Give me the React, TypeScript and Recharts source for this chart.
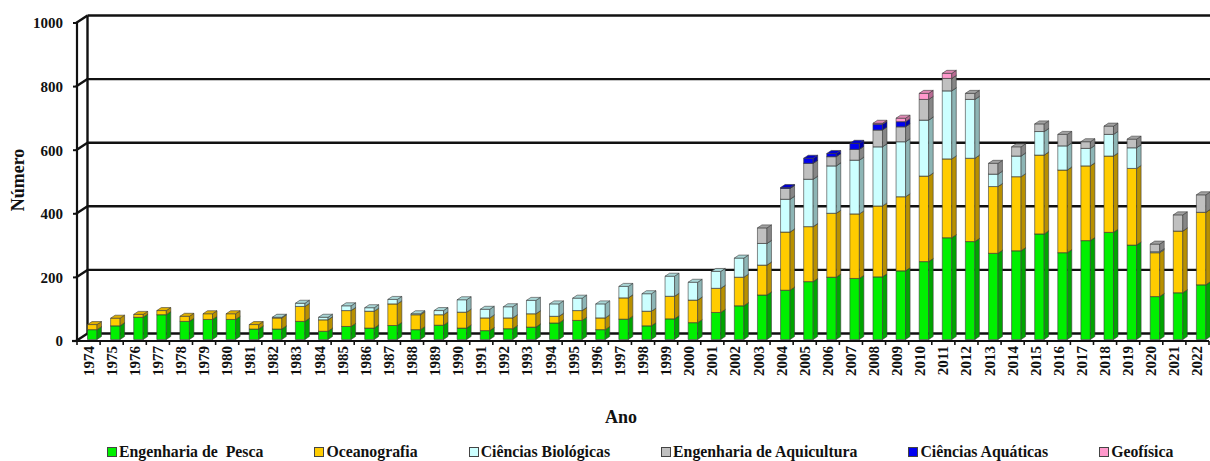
import React from 'react';
import { BarChart, Bar, XAxis, YAxis, CartesianGrid, Legend, Label } from 'recharts';

// ---------- data ----------
const years = [
  1974, 1975, 1976, 1977, 1978, 1979, 1980, 1981, 1982, 1983, 1984, 1985, 1986, 1987, 1988, 1989,
  1990, 1991, 1992, 1993, 1994, 1995, 1996, 1997, 1998, 1999, 2000, 2001, 2002, 2003, 2004, 2005,
  2006, 2007, 2008, 2009, 2010, 2011, 2012, 2013, 2014, 2015, 2016, 2017, 2018, 2019, 2020, 2021, 2022,
];
const engenhariaPesca = [
  31, 43, 70, 78, 57, 63, 63, 33, 33, 57, 26, 41, 36, 44, 31, 45,
  36, 28, 34, 39, 52, 60, 31, 64, 43, 65, 53, 85, 106, 140, 155, 182,
  196, 192, 197, 216, 245, 320, 308, 271, 279, 332, 273, 311, 337, 297, 135, 147, 172,
];
const oceanografia = [
  16, 24, 9, 13, 16, 18, 18, 14, 35, 47, 36, 50, 53, 68, 47, 33,
  50, 40, 34, 42, 21, 31, 37, 67, 46, 71, 71, 76, 90, 94, 183, 173,
  201, 203, 223, 233, 269, 248, 262, 210, 233, 248, 260, 235, 240, 241, 138, 194, 228,
];
const cienciasBiologicas = [
  0, 0, 0, 0, 0, 0, 0, 0, 2, 10, 8, 15, 11, 14, 3, 13,
  39, 27, 35, 42, 39, 39, 44, 36, 55, 63, 56, 53, 60, 68, 103, 149,
  149, 169, 186, 173, 176, 214, 185, 39, 65, 74, 76, 55, 68, 65, 3, 0, 0,
];
const engenhariaAquicultura = [
  0, 0, 0, 0, 0, 0, 0, 0, 0, 0, 0, 0, 0, 0, 0, 0,
  0, 0, 0, 0, 0, 0, 0, 0, 0, 0, 0, 0, 0, 49, 34, 50,
  29, 34, 53, 47, 65, 39, 19, 34, 29, 24, 36, 21, 26, 27, 24, 51, 55,
];
const cienciasAquaticas = [
  0, 0, 0, 0, 0, 0, 0, 0, 0, 0, 0, 0, 0, 0, 0, 0,
  0, 0, 0, 0, 0, 0, 0, 0, 0, 0, 0, 0, 0, 0, 3, 16,
  10, 19, 18, 16, 0, 0, 0, 0, 0, 0, 0, 0, 0, 0, 0, 0, 0,
];
const geofisica = [
  0, 0, 0, 0, 0, 0, 0, 0, 0, 0, 0, 0, 0, 0, 0, 0,
  0, 0, 0, 0, 0, 0, 0, 0, 0, 0, 0, 0, 0, 0, 0, 0,
  0, 0, 3, 11, 19, 16, 0, 0, 0, 0, 0, 0, 0, 0, 0, 0, 0,
];
const seriesNames = [
  'Engenharia de  Pesca',
  'Oceanografia',
  'Ciências Biológicas',
  'Engenharia de Aquicultura',
  'Ciências Aquáticas',
  'Geofísica',
];
const seriesKeys = ['pesca', 'oceano', 'bio', 'aquicultura', 'aquaticas', 'geofisica'];
const yTicks = [0, 200, 400, 600, 800, 1000];
const xTitle = 'Ano';
const yTitle = 'Número';

const data = years.map((y, i) => ({
  year: String(y),
  pesca: engenhariaPesca[i],
  oceano: oceanografia[i],
  bio: cienciasBiologicas[i],
  aquicultura: engenhariaAquicultura[i],
  aquaticas: cienciasAquaticas[i],
  geofisica: geofisica[i],
}));

// ---------- styles ----------
const FONT = "'Liberation Serif', 'Times New Roman', serif";
const palette = [
  { front: '#00F000', side: '#00A400', top: '#00C800' },
  { front: '#FFCC00', side: '#B89000', top: '#E0B000' },
  { front: '#CCFFFF', side: '#8DB5B5', top: '#A9D6D6' },
  { front: '#C0C0C0', side: '#868686', top: '#A2A2A2' },
  { front: '#0000F0', side: '#0000A8', top: '#0000D0' },
  { front: '#FF99CC', side: '#B86A92', top: '#E088B4' },
];
const BAR_SHIFT_X = 3.5;
const BAR_SHIFT_Y = -1.5;
const DEPTH_X = 4.5;
const DEPTH_Y = 3;
const WALL_DX = 10.5;
const WALL_DY = -7.5;

const make3DShape = (c: { front: string; side: string; top: string }) => (props: any) => {
  const { x, y, width, height } = props;
  if (!height || height <= 0 || !isFinite(y)) return <g />;
  const X = x + BAR_SHIFT_X;
  const Y = y + BAR_SHIFT_Y;
  const w = width;
  const h = height;
  return (
    <g stroke="#3c3c3c" strokeWidth={0.6} strokeLinejoin="round">
      <rect x={X} y={Y} width={w} height={h} fill={c.front} />
      <polygon
        points={`${X + w},${Y} ${X + w + DEPTH_X},${Y - DEPTH_Y} ${X + w + DEPTH_X},${Y + h - DEPTH_Y} ${X + w},${Y + h}`}
        fill={c.side}
      />
      <polygon
        points={`${X},${Y} ${X + DEPTH_X},${Y - DEPTH_Y} ${X + w + DEPTH_X},${Y - DEPTH_Y} ${X + w},${Y}`}
        fill={c.top}
      />
    </g>
  );
};

const gridLine = (props: any) => {
  const { x1, y1, x2, index, y, height } = props;
  return (
    <g key={`g-${index}`} stroke="#111" strokeWidth={2.4} fill="none">
      <line x1={x1 + WALL_DX} y1={y1 + WALL_DY} x2={x2 + WALL_DX + 20} y2={y1 + WALL_DY} />
      <line x1={x1 - 1} y1={y1} x2={x1 + WALL_DX} y2={y1 + WALL_DY} />
      {index === 0 && typeof y === 'number' && typeof height === 'number' ? (
        <line x1={x1 + WALL_DX} y1={y + WALL_DY} x2={x1 + WALL_DX} y2={y + height + WALL_DY} />
      ) : null}
    </g>
  );
};

const XTick = (props: any) => {
  const { x, y, payload } = props;
  const off = payload && typeof payload.offset === 'number' ? payload.offset : 11.55;
  const axisY = y - 5;
  const isFirst = payload && payload.value === String(years[0]);
  const isLast = payload && payload.value === String(years[years.length - 1]);
  return (
    <g>
      <line x1={x - off} y1={axisY} x2={x - off} y2={axisY + 4} stroke="#111" strokeWidth={1.6} />
      {isFirst ? (
        <line x1={x - off - 5} y1={axisY} x2={x - off} y2={axisY} stroke="#111" strokeWidth={2.2} />
      ) : null}
      {isLast ? (
        <line x1={x + off} y1={axisY} x2={x + off} y2={axisY + 4} stroke="#111" strokeWidth={1.6} />
      ) : null}
      <text
        x={x}
        y={y}
        transform={`rotate(-90 ${x} ${y})`}
        textAnchor="end"
        dominantBaseline="central"
        fontFamily={FONT}
        fontWeight="bold"
        fontSize={15}
        fill="#111"
      >
        {payload.value}
      </text>
    </g>
  );
};

const renderXTitle = (props: any) => {
  const vb = props.viewBox || {};
  const cx = (vb.x ?? 77) + (vb.width ?? 1132) / 2 - 22;
  const cy = (vb.y ?? 341) + 76;
  return (
    <text x={cx} y={cy} textAnchor="middle" dominantBaseline="central" fontFamily={FONT} fontWeight="bold" fontSize={18} fill="#111">
      {xTitle}
    </text>
  );
};

const renderYTitle = (props: any) => {
  const vb = props.viewBox || {};
  const cx = 18;
  const cy = (vb.y ?? 23) + (vb.height ?? 318) / 2 - 2;
  return (
    <text
      x={cx}
      y={cy}
      transform={`rotate(-90 ${cx} ${cy})`}
      textAnchor="middle"
      dominantBaseline="central"
      fontFamily={FONT}
      fontWeight="bold"
      fontSize={18}
      fill="#111"
    >
      {yTitle}
    </text>
  );
};

const renderLegend = () => (
  <div
    style={{
      display: 'flex',
      flexDirection: 'row',
      alignItems: 'center',
      paddingLeft: 107,
      gap: 51,
      fontFamily: FONT,
      fontWeight: 'bold',
      fontSize: 15.8,
      lineHeight: '16px',
      color: '#111',
    }}
  >
    {seriesNames.map((name, i) => (
      <div key={name} style={{ display: 'flex', alignItems: 'center', whiteSpace: 'pre' }}>
        <span
          style={{
            display: 'inline-block',
            width: 8,
            height: 8,
            background: palette[i].front,
            border: '1px solid #444',
            marginRight: 2,
          }}
        />
        <span>{name}</span>
      </div>
    ))}
  </div>
);

export default function App() {
  return (
    <div style={{ position: 'absolute', left: 0, top: 0, width: 1210, height: 461, background: '#fff' }}>
      <BarChart
        width={1210}
        height={461}
        data={data}
        margin={{ top: 23, right: 1, bottom: 37, left: 0 }}
        barSize={9.5}
      >
        <CartesianGrid horizontal={gridLine} vertical={false} />
        <XAxis
          dataKey="year"
          type="category"
          interval={0}
          height={83}
          tickSize={4}
          tickMargin={1}
          tickLine={false}
          axisLine={{ stroke: '#111', strokeWidth: 2.2 }}
          tick={<XTick />}
        >
          <Label content={renderXTitle} />
        </XAxis>
        <YAxis
          type="number"
          domain={[0, 1000]}
          ticks={yTicks}
          width={77}
          tickSize={4}
          tickMargin={10}
          interval={0}
          axisLine={{ stroke: '#111', strokeWidth: 2.2 }}
          tickLine={{ stroke: '#111', strokeWidth: 2 }}
          tick={{ fontFamily: FONT, fontWeight: 'bold', fontSize: 15, fill: '#111' }}
        >
          <Label content={renderYTitle} />
        </YAxis>
        <Legend
          verticalAlign="middle"
          align="center"
          layout="horizontal"
          wrapperStyle={{ top: 444, left: 0, width: 1210 }}
          content={renderLegend}
        />
        {seriesKeys.map((k, i) => (
          <Bar
            key={k}
            dataKey={k}
            name={seriesNames[i]}
            stackId="a"
            fill={palette[i].front}
            isAnimationActive={false}
            shape={make3DShape(palette[i])}
          />
        ))}
      </BarChart>
    </div>
  );
}
